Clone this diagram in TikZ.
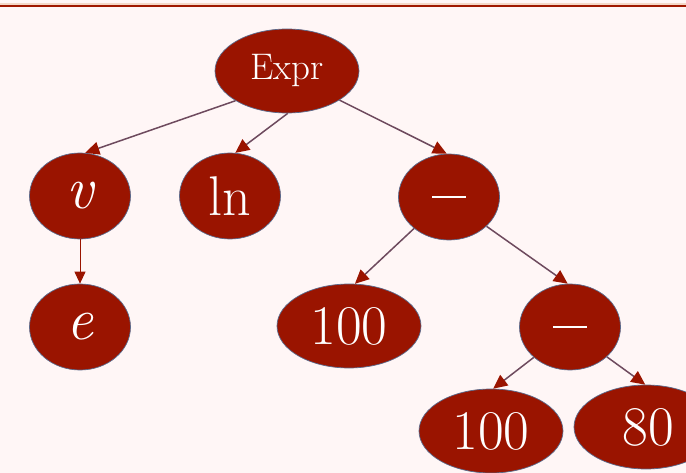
\documentclass[tikz,border=0pt]{standalone}
\usetikzlibrary{shapes.geometric,arrows.meta}
\definecolor{bgpink}{HTML}{FFF6F6}
\definecolor{nodered}{HTML}{9A1400}
\definecolor{rimblue}{HTML}{5A6A8C}
\definecolor{linkgray}{HTML}{6E4A5E}
\definecolor{topline}{HTML}{A01800}
\definecolor{topbeige}{HTML}{F4D8C8}
\tikzset{
  tnode/.style={ellipse, fill=nodered, draw=rimblue, line width=0.7pt, inner sep=0pt, text=white},
  small/.style={tnode, minimum width=101pt, minimum height=86pt},
  wide/.style={tnode, minimum width=144pt, minimum height=84pt},
  link/.style={draw=linkgray, line width=1.5pt, -{Triangle[length=14pt,width=13pt,color=nodered]}},
  bigtxt/.style={font=\fontsize{56}{56}\selectfont},
  mathtxt/.style={font=\fontsize{60}{60}\selectfont\itshape},
}
\newcommand{\minusbar}{\rule{34pt}{2.6pt}}
\begin{document}
\begin{tikzpicture}[x=1pt,y=-1pt]
\useasboundingbox (0,0) rectangle (686,473);
\begin{scope}
\clip (0,0) rectangle (686,473);
\fill[bgpink] (0,0) rectangle (686,473);
\fill[topbeige] (0,3.5) rectangle (686,5);
\fill[topline] (0,5) rectangle (686,7.5);
\node[wide, font=\fontsize{37}{37}\selectfont] (expr) at (287,71) {Expr};
\node[small, mathtxt] (v) at (80,196) {v};
\node[small, bigtxt] (ln) at (230,196) {ln};
\node[small] (m1) at (449,197) {\minusbar};
\node[small, mathtxt] (e) at (80,327) {e};
\node[wide, bigtxt] (h1) at (349,326) {100};
\node[small] (m2) at (570,327) {\minusbar};
\node[wide, bigtxt] (h2) at (491,431) {100};
\node[wide, bigtxt] (eighty) at (646,427) {\hspace*{4pt}80};
\draw[link] (expr.210) -- (v.83);
\draw[link] (expr.271) -- (ln.83);
\draw[link] (expr.331) -- (m1.93);
\draw[link] (m1.222) -- (h1.82);
\draw[link] (m1.322) -- (m2.93);
\draw[link] (m2.220) -- (h2.87);
\draw[link] (m2.321) -- (eighty.91);
\draw[draw=nodered, line width=1pt, -{Triangle[length=12pt,width=11pt,color=nodered]}] (v.south) -- (e.north);
\end{scope}
\end{tikzpicture}
\end{document}
